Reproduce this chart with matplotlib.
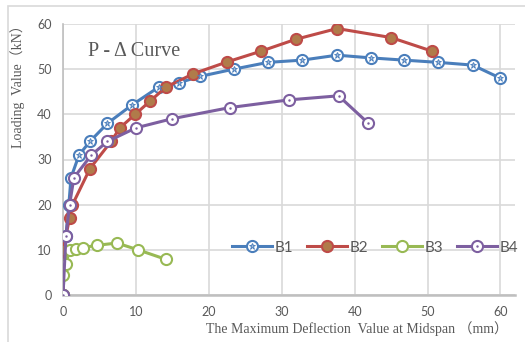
#P - Delta curves of the four beams
import numpy as np
import matplotlib
matplotlib.use('Agg')
import matplotlib.pyplot as plt
from matplotlib.legend_handler import HandlerTuple
from matplotlib.patches import Rectangle

#data
b1_x = [0, 0.4, 0.8, 1.1, 2.2, 3.7, 6.1, 9.4, 13.1, 15.9, 18.8, 23.4, 28.1, 32.8, 37.6, 42.2, 46.8, 51.5, 56.2, 60.0]
b1_y = [0, 13, 20, 26, 31, 34, 38, 42, 46, 47, 48.4, 50, 51.5, 52, 53.1, 52.5, 52, 51.5, 50.9, 48]
b2_x = [0, 0, 0.9, 1.3, 3.7, 6.6, 7.8, 9.9, 12.0, 14.1, 17.9, 22.5, 27.2, 31.9, 37.6, 45.0, 50.6]
b2_y = [0, 10, 17, 20, 28, 34, 37, 40, 43, 46, 49, 51.6, 54, 56.6, 59, 57, 54]
b3_x = [0, 0, 0.4, 0.9, 1.8, 2.8, 4.6, 7.4, 10.3, 14.1]
b3_y = [0, 4.4, 6.9, 10, 10.2, 10.5, 11, 11.5, 10, 7.9]
b4_x = [0, 0.4, 0.9, 1.5, 3.9, 6.1, 10.0, 14.9, 22.9, 31.0, 37.8, 41.9]
b4_y = [0, 13, 20, 26, 31, 34, 37, 39, 41.5, 43.2, 44.1, 38]
names = ['B1', 'B2', 'B3', 'B4']

blue = '#4A7EBB'
red = '#BE4B48'
green = '#98B954'
purple = '#7D5FA0'
gray = '#595959'

fig = plt.figure(figsize=(5.25, 3.42), dpi=100)
ax = fig.add_axes([63/525, 1-295/342, 452/525, 271/342])

# outer chart border
fig.patches.append(Rectangle((8/525, -0.1), 1.2, 1-6/342+0.1, transform=fig.transFigure,
                             fill=False, edgecolor='#D9D9D9', linewidth=1.2))

lw = 2.2
ms = 8
l1, = ax.plot(b1_x, b1_y, color=blue, lw=lw, marker='o', ms=ms, mfc='white', mec=blue, mew=1.5, zorder=3)
l1b, = ax.plot(b1_x, b1_y, ls='none', marker='*', ms=4.5, mfc='#9DB9DD', mec=blue, mew=0.6, zorder=4)
l2, = ax.plot(b2_x, b2_y, color=red, lw=lw, marker='o', ms=ms, mfc='#B07B4A', mec=red, mew=1.5, zorder=3)
l3, = ax.plot(b3_x, b3_y, color=green, lw=lw, marker='o', ms=ms, mfc='white', mec=green, mew=1.5, zorder=3)
l4, = ax.plot(b4_x, b4_y, color=purple, lw=lw, marker='o', ms=ms, mfc='white', mec=purple, mew=1.5, zorder=5)
l4b, = ax.plot(b4_x, b4_y, ls='none', marker='.', ms=1.5, color=purple, zorder=6)

ax.set_xlim(0, 62)
ax.set_ylim(0, 60)
ax.set_xticks(np.arange(0, 61, 10))
ax.set_yticks(np.arange(0, 61, 10))
ax.grid(True, color='#D9D9D9', lw=1.2)
ax.set_axisbelow(True)
for s in ['top', 'right']:
    ax.spines[s].set_visible(False)
ax.spines['left'].set_color('#BFBFBF')
ax.spines['bottom'].set_color('#BFBFBF')
ax.spines['bottom'].set_linewidth(1.8)
ax.spines['left'].set_linewidth(1.2)
ax.tick_params(length=0, labelsize=9, labelcolor=gray, pad=8)
for t in ax.get_xticklabels() + ax.get_yticklabels():
    t.set_fontfamily('Lato')

serif = ['Liberation Serif', 'Noto Sans CJK SC']
ax.set_ylabel('Loading  Value（kN）', fontsize=10, color=gray, family=serif)
ax.yaxis.set_label_coords(-0.085, 0.78)
ax.set_xlabel('The Maximum Deflection  Value at Midspan （mm）', fontsize=10, color=gray, family=serif)
ax.xaxis.set_label_coords(0.65, -0.095)

ax.text(0.055, 0.9, 'P - Δ Curve', transform=ax.transAxes, fontsize=14.5, color=gray,
        family='Liberation Serif', va='center')

leg = ax.legend([(l1, l1b), l2, l3, (l4, l4b)], names, handler_map={tuple: HandlerTuple(ndivide=1)},
                ncol=4, frameon=False, loc='center left', bbox_to_anchor=(0.36, 0.175),
                handlelength=2.6, handletextpad=0.2, columnspacing=0.9,
                prop={'family': 'Lato', 'size': 11}, borderaxespad=0)
for t in leg.get_texts():
    t.set_color(gray)

fig.savefig('out.png', dpi=100)
